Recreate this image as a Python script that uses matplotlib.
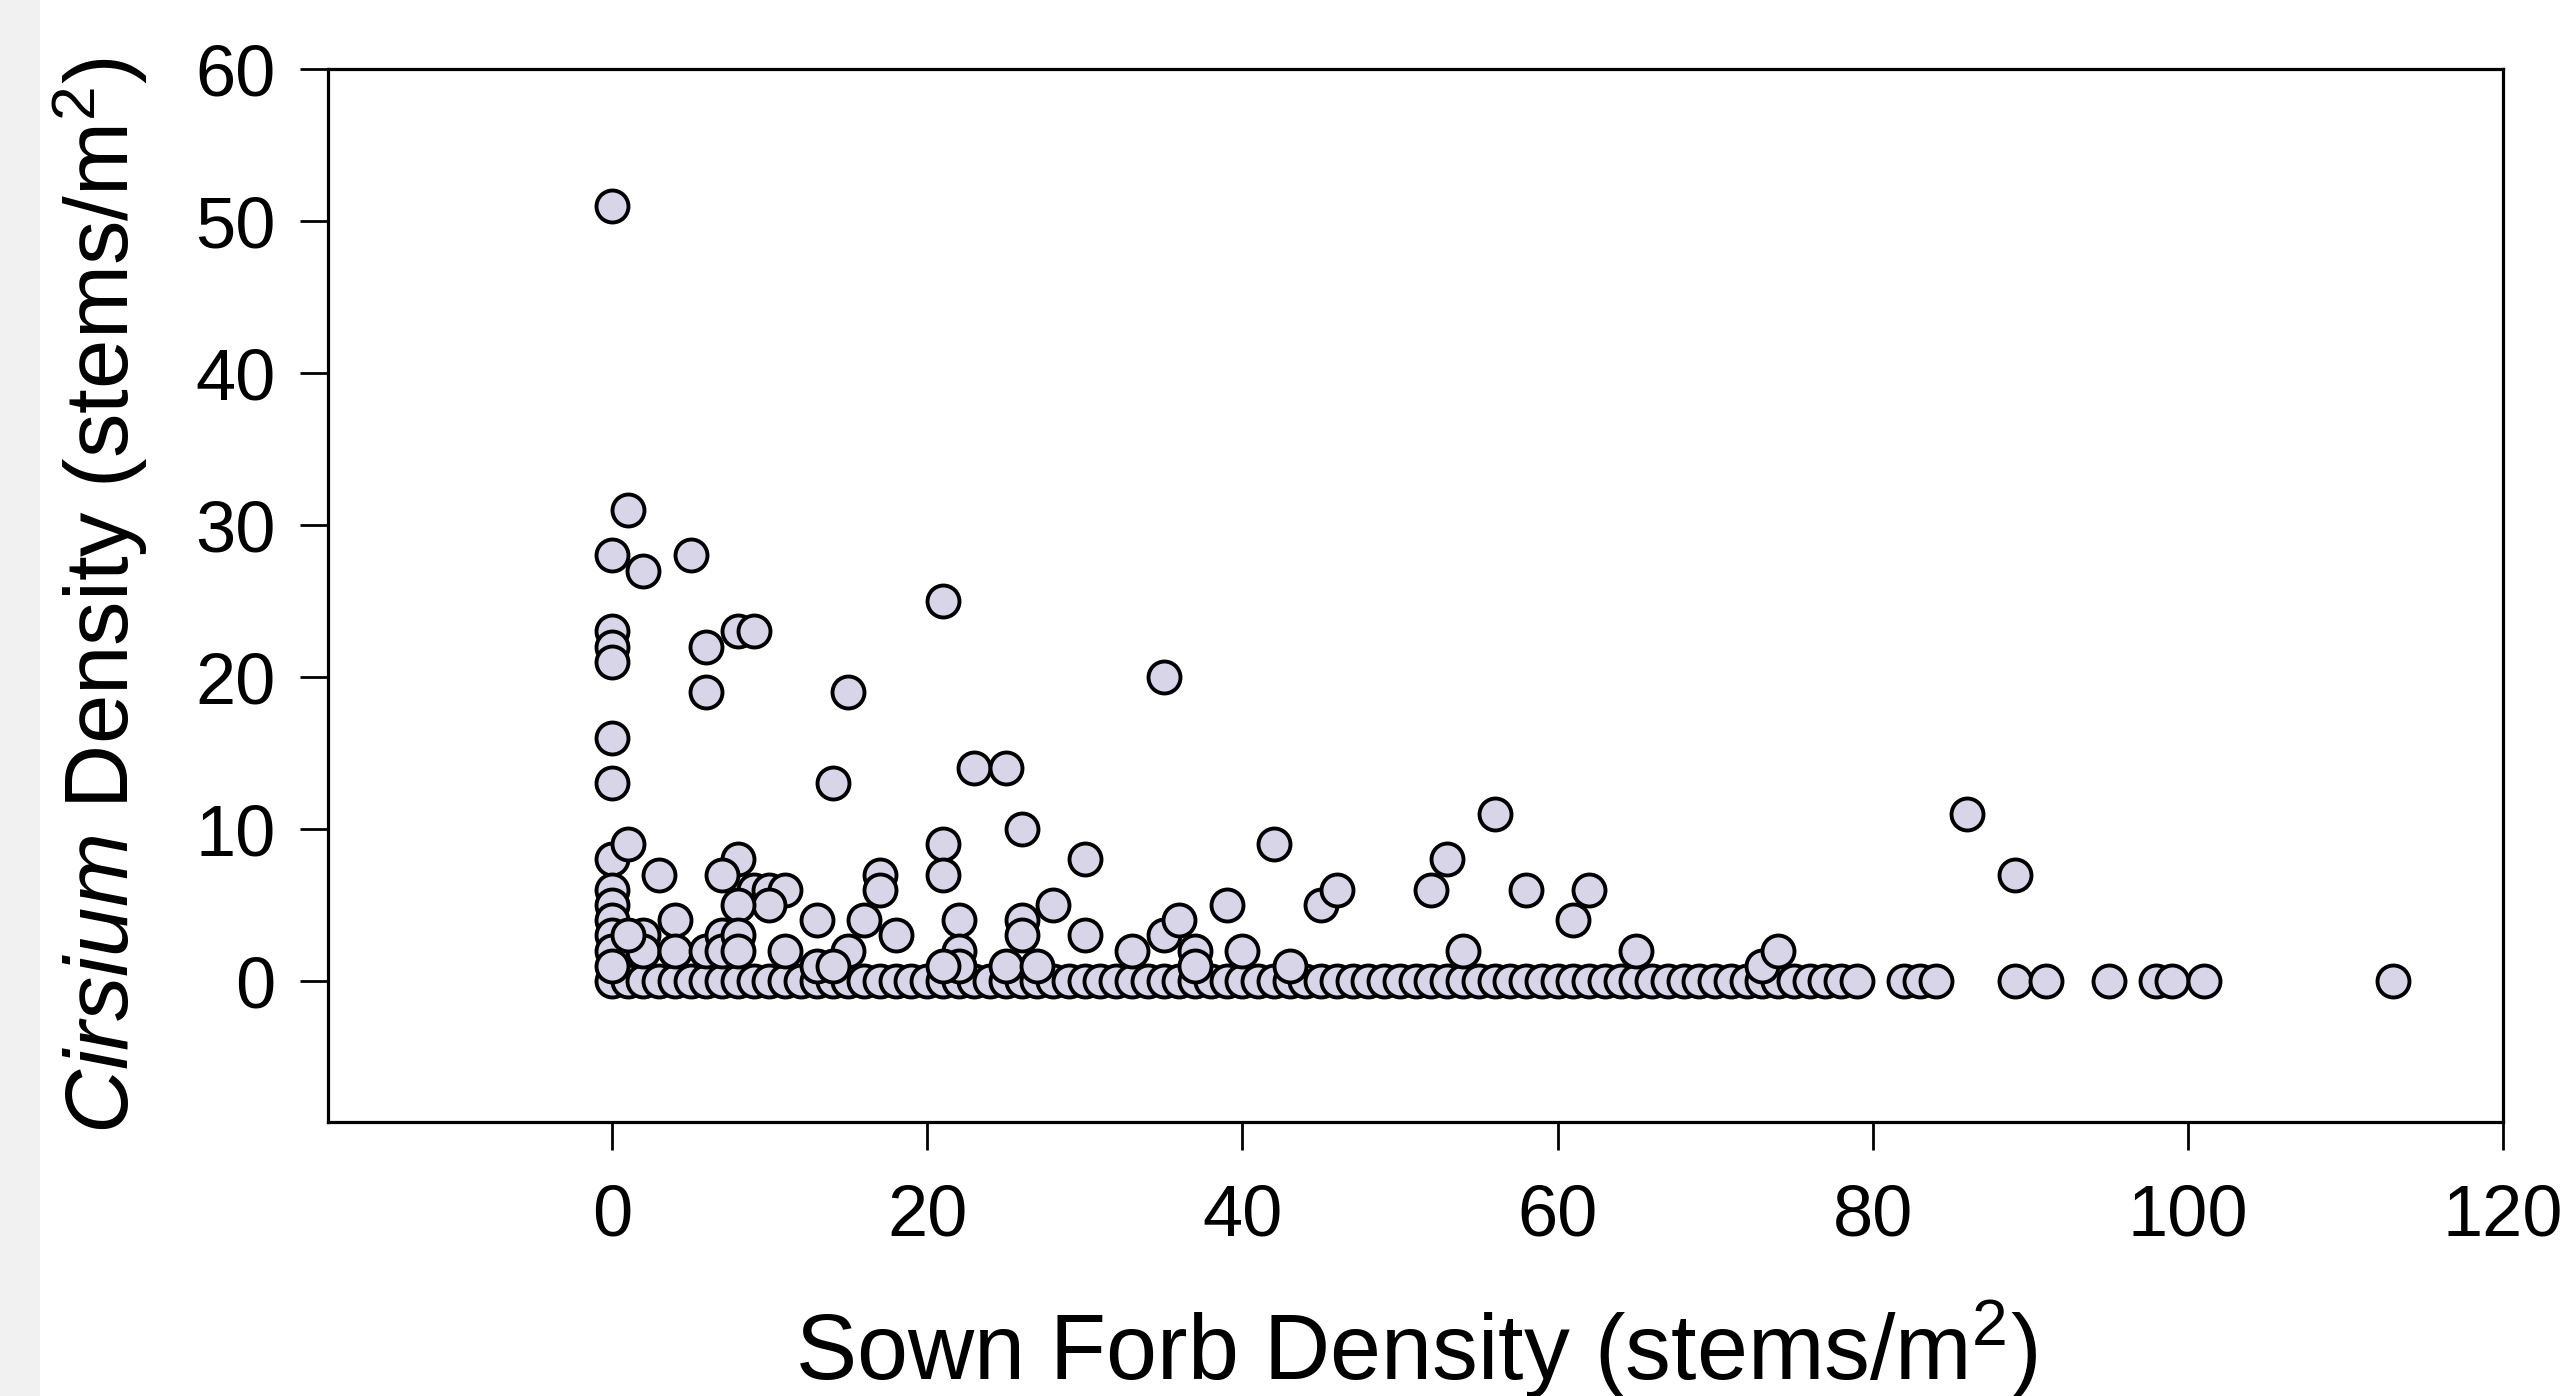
import matplotlib
matplotlib.use("Agg")
import matplotlib.pyplot as plt
from matplotlib.patches import Rectangle
import numpy as np

plt.rcParams["font.family"] = ["Liberation Sans", "DejaVu Sans"]
plt.rcParams["mathtext.fontset"] = "custom"
plt.rcParams["mathtext.rm"] = "Liberation Sans"
plt.rcParams["mathtext.it"] = "Liberation Sans:italic"

# plots with zero Cirsium stems (sown forb density)
zero_x = list(range(0, 80)) + [82, 83, 84, 89, 91, 95, 98, 99, 101, 113]

# plots with Cirsium present
pos_x = [0, 1, 0, 2, 5, 0, 0, 0, 6, 8, 9, 6, 15, 21, 0, 0, 14, 35, 23, 25,
         26, 0, 1, 3, 8, 7, 21, 21, 30, 42, 53, 56, 17, 17, 28, 26, 26,
         22, 22, 22, 21, 9, 10, 11, 10, 8, 0, 0, 0, 0, 0, 0, 2, 2, 1, 4, 4,
         6, 7, 7, 8, 8, 11, 13, 13, 16, 18, 15, 14, 25, 27, 30, 33, 35, 36,
         37, 37, 39, 40, 43, 45, 46, 52, 54, 58, 61, 62, 65, 73, 74, 86, 89]
pos_y = [51, 31, 28, 27, 28, 23, 22, 21, 22, 23, 23, 19, 19, 25, 16, 13, 13, 20, 14, 14,
         10, 8, 9, 7, 8, 7, 9, 7, 8, 9, 8, 11, 7, 6, 5, 4, 3,
         4, 2, 1, 1, 6, 6, 6, 5, 5, 6, 5, 4, 3, 2, 1, 3, 2, 3, 4, 2,
         2, 3, 2, 3, 2, 2, 4, 1, 4, 3, 2, 1, 1, 1, 3, 2, 3, 4,
         2, 1, 5, 2, 1, 5, 6, 6, 2, 6, 4, 6, 2, 1, 2, 11, 7]

sown = np.array(zero_x + pos_x)
cirsium = np.array([0] * len(zero_x) + pos_y)

fig = plt.figure(figsize=(25.74, 13.96), dpi=100)
fig.patches.append(Rectangle((0, 0), 40 / 2574, 1, transform=fig.transFigure,
                             facecolor="#f1f1f1", edgecolor="none", zorder=0))
ax = fig.add_axes([0.1275, 0.196, 0.845, 0.7545])

ax.scatter(sown, cirsium, s=530, facecolor="#d9d5e9", edgecolor="black",
           linewidth=2.8, zorder=3, clip_on=False)

ax.set_xlim(-18, 120)
ax.set_ylim(-9.3, 60)
ax.set_xticks(np.arange(0, 121, 20))
ax.set_yticks(np.arange(0, 61, 10))

for sp in ax.spines.values():
    sp.set_linewidth(2.3)
ax.tick_params(axis="both", direction="out", length=20, width=2, labelsize=52)
ax.tick_params(axis="x", pad=24)
ax.tick_params(axis="y", pad=18)

ax.set_xlabel("Sown Forb Density (stems/m$^2$)", fontsize=66, labelpad=34)
ax.set_ylabel(r"$\it{Cirsium}$ Density (stems/m$^2$)", fontsize=64, labelpad=32)

fig.savefig("out.png", dpi=100)
